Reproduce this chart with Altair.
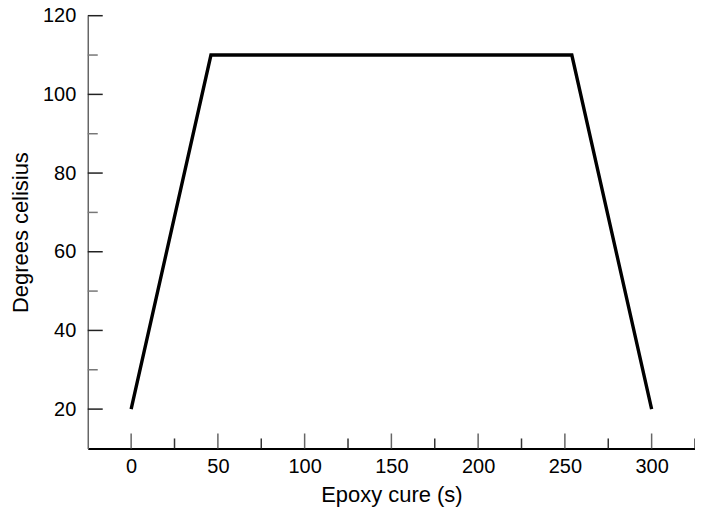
import altair as alt
import pandas as pd

# data
cure_time = [0, 46, 254, 300]
temperature = [20, 110, 110, 20]

x_major = [0, 50, 100, 150, 200, 250, 300]
x_minor = [25, 75, 125, 175, 225, 275, 325]
y_major = [20, 40, 60, 80, 100, 120]
y_minor = [30, 50, 70, 90, 110]

W, H = 609, 434
FONT = "Liberation Sans"

xs = alt.Scale(domain=[-25, 325], nice=False, zero=False)
ys = alt.Scale(domain=[10, 120], nice=False, zero=False)

line_df = pd.DataFrame({"t": cure_time, "c": temperature})

base_line = alt.Chart(line_df).mark_line(color="black", strokeWidth=3.4, strokeJoin="miter", strokeCap="butt").encode(
    x=alt.X("t:Q", scale=xs, title="Epoxy cure (s)",
            axis=alt.Axis(values=x_major, ticks=False, grid=False, domainColor="black", domainWidth=2,
                          labelPadding=8, titlePadding=8, labelFontSize=20, titleFontSize=22,
                          labelFont=FONT, titleFont=FONT, labelColor="black", titleColor="black",
                          titleFontWeight="normal")),
    y=alt.Y("c:Q", scale=ys, title="Degrees celisius",
            axis=alt.Axis(values=y_major, ticks=False, grid=False, domainColor="#666", domainWidth=1.5,
                          labelPadding=12, titlePadding=10, labelFontSize=20, titleFontSize=22,
                          labelFont=FONT, titleFont=FONT, labelColor="black", titleColor="black",
                          titleFontWeight="normal")),
)

def xticks(vals, length, color):
    return alt.Chart(pd.DataFrame({"v": vals})).mark_rule(color=color, strokeWidth=1.5).encode(
        x=alt.X("v:Q", scale=xs), y=alt.value(H), y2=alt.value(H - length))

def yticks(vals, length, color):
    return alt.Chart(pd.DataFrame({"v": vals})).mark_rule(color=color, strokeWidth=1.5).encode(
        y=alt.Y("v:Q", scale=ys), x=alt.value(0), x2=alt.value(length))

chart = alt.layer(
    xticks(x_major, 15, "#666"),
    xticks(x_minor, 10, "#333"),
    yticks(y_major, 15, "#222"),
    yticks(y_minor, 10, "#777"),
    base_line,
).properties(
    width=W, height=H,
    autosize=alt.AutoSizeParams(type="none"),
    padding={"left": 80, "top": 7, "right": 0, "bottom": 58},
).configure_view(stroke=None).configure_axis(labelFont=FONT, titleFont=FONT)

chart.save("out.html", embed_options={"renderer": "svg", "actions": False})
